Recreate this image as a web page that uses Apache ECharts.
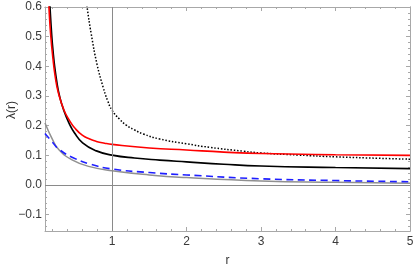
<!DOCTYPE html>
<html><head><meta charset="utf-8">
<script src="https://cdn.jsdelivr.net/npm/echarts@6/dist/echarts.min.js"></script>
<style>html,body{margin:0;padding:0;background:#fff}#c{width:414px;height:267px}</style>
</head><body><div id="c"></div>
<script>
// ---- data ----
const redX   = [0.14, 0.152, 0.175, 0.205, 0.24, 0.28, 0.354, 0.43, 0.5, 0.6, 0.7, 0.79, 0.9, 1.0, 1.5, 2.0, 2.5, 3.0, 4.0, 5.0];
const redY   = [0.66, 0.603, 0.51, 0.43, 0.36, 0.31, 0.253, 0.217, 0.192, 0.168, 0.155, 0.147, 0.141, 0.137, 0.125, 0.118, 0.111, 0.106, 0.102, 0.100];
const blackX = [0.155, 0.166, 0.19, 0.21, 0.23, 0.26, 0.29, 0.354, 0.435, 0.49, 0.605, 0.79, 1.0, 1.3, 1.64, 2.0, 2.5, 3.0, 4.0, 5.0];
const blackY = [0.66, 0.603, 0.505, 0.445, 0.398, 0.345, 0.305, 0.250, 0.202, 0.178, 0.142, 0.115, 0.101, 0.091, 0.084, 0.078, 0.070, 0.064, 0.059, 0.055];
const dotX   = [0.645, 0.663, 0.72, 0.80, 0.88, 0.94, 1.0, 1.1, 1.19, 1.3, 1.42, 1.64, 2.0, 2.31, 2.76, 3.0, 3.5, 4.0, 5.0];
const dotY   = [0.64, 0.603, 0.51, 0.405, 0.33, 0.285, 0.252, 0.222, 0.202, 0.186, 0.172, 0.155, 0.139, 0.127, 0.114, 0.108, 0.101, 0.095, 0.087];
const grayX  = [0.1, 0.2, 0.29, 0.47, 0.7, 1.0, 1.5, 2.0, 3.0, 4.0, 5.0];
const grayY  = [0.209, 0.154, 0.118, 0.084, 0.062, 0.048, 0.034, 0.025, 0.0135, 0.009, 0.0057];
const blueX  = [0.1, 0.2, 0.29, 0.47, 0.7, 1.0, 1.5, 2.0, 3.0, 4.0, 5.0];
const blueY  = [0.174, 0.144, 0.120, 0.093, 0.071, 0.054, 0.042, 0.034, 0.021, 0.015, 0.011];

// ---- axes / ticks ----
const xMin = 0.1, xMax = 5, yMin = -0.155, yMax = 0.6;
const xTicks = [1, 2, 3, 4, 5];
const yTicks = [-0.1, 0.0, 0.1, 0.2, 0.3, 0.4, 0.5, 0.6];
const xMinor = []; for (let i = 1; i < 25; i++) { const v = +(i * 0.2).toFixed(2); if (Math.abs(v - Math.round(v)) > 1e-6) xMinor.push(v); }
const yMinor = []; for (let i = -7; i <= 30; i++) { const v = +(i * 0.02).toFixed(2); if (Math.abs(v * 10 - Math.round(v * 10)) > 1e-6) yMinor.push(v); }
const axisOrigin = { x: 1, y: 0 };
const xTitle = 'r', yTitle = 'λ(r)';

const pairs = (xs, ys) => xs.map((x, i) => [x, ys[i]]);
const FONT = 'Liberation Sans';
const frameColor = '#a8a8a8';
const labelColor = '#3a3a3a';

function xa(pos, vals, len, labels) {
  return {
    type: 'value', position: pos, min: xMin, max: xMax,
    axisLine: { show: !!labels || pos === 'top', onZero: false, lineStyle: { color: frameColor, width: 1 } },
    axisTick: { show: true, inside: true, length: len, customValues: vals, lineStyle: { color: frameColor } },
    axisLabel: labels ? { show: true, customValues: vals, color: labelColor, fontFamily: FONT, fontSize: 12, margin: 5 } : { show: false },
    splitLine: { show: false }
  };
}
function ya(pos, vals, len, labels) {
  return {
    type: 'value', position: pos, min: yMin, max: yMax,
    axisLine: { show: !!labels || pos === 'right', onZero: false, lineStyle: { color: frameColor, width: 1 } },
    axisTick: { show: true, inside: true, length: len, customValues: vals, lineStyle: { color: frameColor } },
    axisLabel: labels ? { show: true, customValues: vals, color: labelColor, fontFamily: FONT, fontSize: 12, margin: 3,
      formatter: v => (v < -1e-9 ? '\u2212' + Math.abs(v).toFixed(1) : Math.abs(v).toFixed(1)) } : { show: false },
    splitLine: { show: false }
  };
}

const xAxes = [xa('bottom', xTicks, 4, true), xa('bottom', xMinor, 2, false), xa('top', xTicks, 4, false), xa('top', xMinor, 2, false)];
xAxes[0].name = xTitle; xAxes[0].nameLocation = 'middle'; xAxes[0].nameGap = 24;
xAxes[0].nameTextStyle = { color: '#333', fontFamily: FONT, fontSize: 12 };
const yAxes = [ya('left', yTicks, 4, true), ya('left', yMinor, 2, false), ya('right', yTicks, 4, false), ya('right', yMinor, 2, false)];

function line(name, data, color, type, width, z) {
  return { name, type: 'line', data, showSymbol: false, symbol: 'none', smooth: true, clip: true, z: z || 3,
    lineStyle: { color, width, type, cap: 'butt' }, emphasis: { disabled: true } };
}

const option = {
  animation: false,
  grid: { left: 45, right: 4, top: 7, bottom: 36, containLabel: false, outerBoundsMode: 'none' },
  xAxis: xAxes,
  yAxis: yAxes,
  graphic: [{ type: 'text', x: 12, y: 110, rotation: Math.PI / 2, silent: true,
    style: { text: yTitle, fill: '#333', font: '12px "Liberation Sans"', align: 'center', verticalAlign: 'middle' } }],
  series: [
    { type: 'line', data: [], z: 1, markLine: { silent: true, symbol: 'none', animation: false, label: { show: false },
      lineStyle: { color: '#8a8a8a', width: 1, type: 'solid' },
      data: [{ xAxis: axisOrigin.x }, { yAxis: axisOrigin.y }] } },
    line('gray', pairs(grayX, grayY), '#909090', 'solid', 1.5),
    line('blue', pairs(blueX, blueY), '#1f1fff', [7, 4.5], 1.6),
    line('black', pairs(blackX, blackY), '#000000', 'solid', 1.7),
    line('dotted', pairs(dotX, dotY), '#000000', [1.5, 1.8], 1.5),
    line('red', pairs(redX, redY), '#ff0000', 'solid', 1.6)
  ]
};
echarts.init(document.getElementById('c'), null, { renderer: 'canvas' }).setOption(option);
</script></body></html>
